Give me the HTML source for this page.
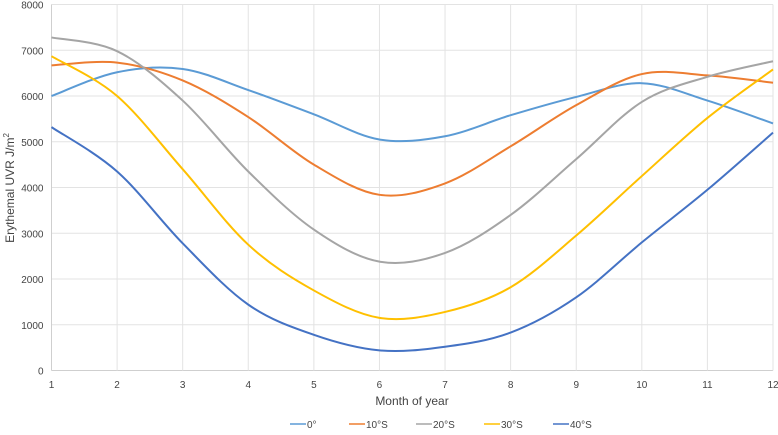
<!DOCTYPE html>
<html><head><meta charset="utf-8"><style>
body{margin:0;background:#fff;font-family:"Liberation Sans",sans-serif}
svg text{font-family:"Liberation Sans",sans-serif;fill:#444}
</style></head><body>
<svg id="c" width="778" height="430"></svg>
<script>
const months=[1,2,3,4,5,6,7,8,9,10,11,12];
const yTicks=[0,1000,2000,3000,4000,5000,6000,7000,8000];
const seriesNames=["0°","10°S","20°S","30°S","40°S"];
const seriesColors=["#5b9bd5","#ed7d31","#a5a5a5","#ffc000","#4472c4"];
const s0=[6000,6520,6590,6130,5600,5050,5120,5580,5980,6280,5900,5400];
const s10=[6670,6730,6340,5540,4500,3840,4090,4900,5800,6480,6450,6290];
const s20=[7280,6980,5900,4350,3080,2380,2570,3400,4620,5870,6420,6760];
const s30=[6870,6000,4400,2750,1750,1150,1280,1820,2950,4250,5520,6580];
const s40=[5320,4350,2780,1440,780,440,520,830,1600,2800,3950,5200];
const series=[s0,s10,s20,s30,s40];
const svg=document.getElementById('c');const NS="http://www.w3.org/2000/svg";
const L=51.5,R=773,T=4.5,B=370.5;
const x=m=>L+(m-1)*(R-L)/11;const y=v=>B-v*(B-T)/8000;
function mk(t,a,p){const e=document.createElementNS(NS,t);for(const k in a)e.setAttribute(k,a[k]);(p||svg).appendChild(e);return e;}
yTicks.forEach(v=>{const g=mk('line',{x1:L,x2:R,y1:y(v),y2:y(v),stroke:v?'#e3e3e3':'#cfcfcf','stroke-width':1});

const t=mk('text',{x:L-8,y:y(v)+4,'text-anchor':'end','font-size':10});t.textContent=v;
});
months.forEach(m=>{const g=mk('line',{x1:x(m),x2:x(m),y1:T,y2:B,stroke:'#e3e3e3','stroke-width':1});

const t=mk('text',{x:x(m),y:388,'text-anchor':'middle','font-size':10});t.textContent=m;
});
const ax=mk('line',{x1:L,x2:L,y1:T,y2:B,stroke:'#cfcfcf'});
function path(vals){const p=vals.map((v,i)=>[x(months[i]),y(v)]);let d=`M${p[0][0]},${p[0][1]}`;
for(let i=0;i<p.length-1;i++){const p0=p[i-1]||p[i],p1=p[i],p2=p[i+1],p3=p[i+2]||p2;
d+=` C${p1[0]+(p2[0]-p0[0])/6},${p1[1]+(p2[1]-p0[1])/6} ${p2[0]-(p3[0]-p1[0])/6},${p2[1]-(p3[1]-p1[1])/6} ${p2[0]},${p2[1]}`;}return d;}
series.forEach((s,i)=>{const e=mk('path',{d:path(s),fill:'none',stroke:seriesColors[i],'stroke-width':2});
});
const xt=mk('text',{x:412,y:405,'text-anchor':'middle','font-size':12});xt.textContent='Month of year';

const yt=mk('text',{x:14,y:188,'text-anchor':'middle','font-size':12,transform:'rotate(-90 14 188)'});yt.innerHTML='Erythemal UVR J/m<tspan dy="-5" font-size="8">2</tspan>';

const lx=[290,349,416,484,553];
seriesNames.forEach((n,i)=>{const g=mk('g',{});
mk('line',{x1:lx[i],x2:lx[i]+16,y1:424,y2:424,stroke:seriesColors[i],'stroke-width':1.5},g);
const t=mk('text',{x:lx[i]+17,y:428,'font-size':10},g);t.textContent=n;});
</script></body></html>
